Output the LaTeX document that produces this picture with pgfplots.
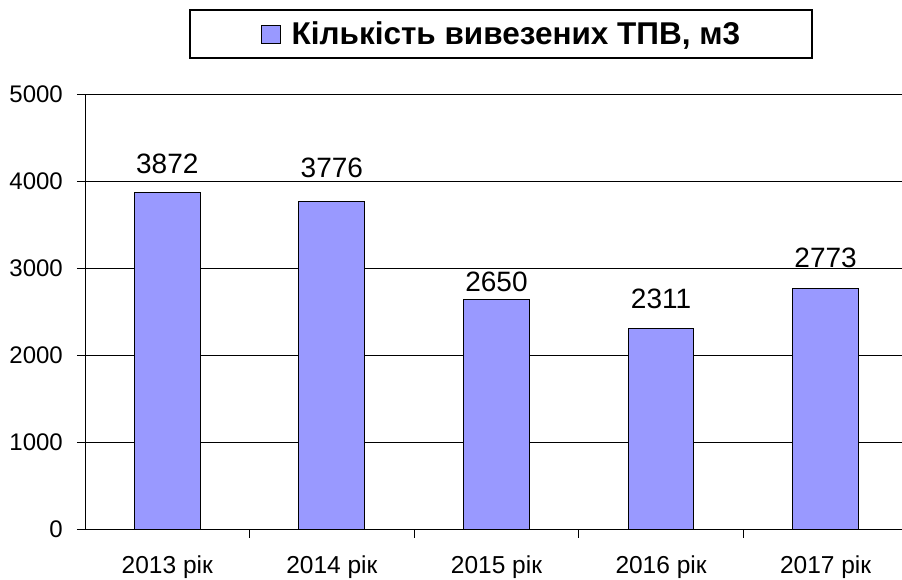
\documentclass[border=0pt]{standalone}
\usepackage{fontspec}
\setmainfont{Liberation Sans}
\usepackage{pgfplots}
\pgfplotsset{compat=1.18}
\usepackage{pgfplotstable}
\definecolor{barblue}{HTML}{9999FF}
\pgfplotstableread{
x y off
0 3872 18.4
1 3776 23
2 2650 7
3 2311 19.6
4 2773 20.6
}\datatable
\begin{document}
\begin{tikzpicture}
\begin{axis}[
  at={(85pt,50.3pt)}, anchor=south west,
  scale only axis, width=817pt, height=435pt,
  xmin=-0.5, xmax=4.464, ymin=0, ymax=5000,
  axis x line=bottom, axis y line=left,
  axis line style={-, line width=1pt, black},
  ytick={0,1000,2000,3000,4000,5000},
  xtick={0,1,2,3,4},
  xticklabels={2013 рік,2014 рік,2015 рік,2016 рік,2017 рік},
  minor xtick={0.5,1.5,2.5,3.5},
  major x tick style={draw=none},
  minor x tick style={line width=1pt, black},
  major y tick style={line width=1pt, black},
  tick align=outside,
  major tick length=8pt, minor tick length=8pt,
  ymajorgrids,
  grid style={line width=1pt, black},
  /pgf/number format/assume math mode=true,
  /pgf/number format/1000 sep={},
  yticklabel style={font=\fontsize{24}{28}\selectfont, inner sep=0pt, anchor=east},
  yticklabel shift=14pt,
  xticklabel style={font=\fontsize{24.5}{28}\selectfont, inner sep=0pt, anchor=north},
  xticklabel shift=18pt,
  ybar, bar width=0.4,
  visualization depends on={\thisrow{off}\as\off},
  nodes near coords,
  nodes near coords style={font=\fontsize{28}{32}\selectfont, anchor=south, inner sep=0pt, yshift=\off pt, black},
  legend style={draw=none, fill=none, at={(0.2154,1.1395)}, anchor=west, inner sep=0pt,
    font=\fontsize{31.5}{36}\selectfont\bfseries, column sep=0pt},
  legend image code/.code={\draw[#1, line width=1pt] (0pt,-9pt) rectangle (19pt,9pt); \path[draw=none, fill=none] (0pt,0pt) -- (28pt,0pt);},
]
\addplot[fill=barblue, draw=black, line width=1pt] table[x=x, y=y] {\datatable};
\addlegendentry{Кількість вивезених ТПВ, м3}
\end{axis}
\draw[line width=1.4pt] (190pt,570pt) rectangle (812pt,522pt);
\pgfresetboundingbox
\path[use as bounding box] (0,0) rectangle (902pt,580pt);
\end{tikzpicture}
\end{document}
